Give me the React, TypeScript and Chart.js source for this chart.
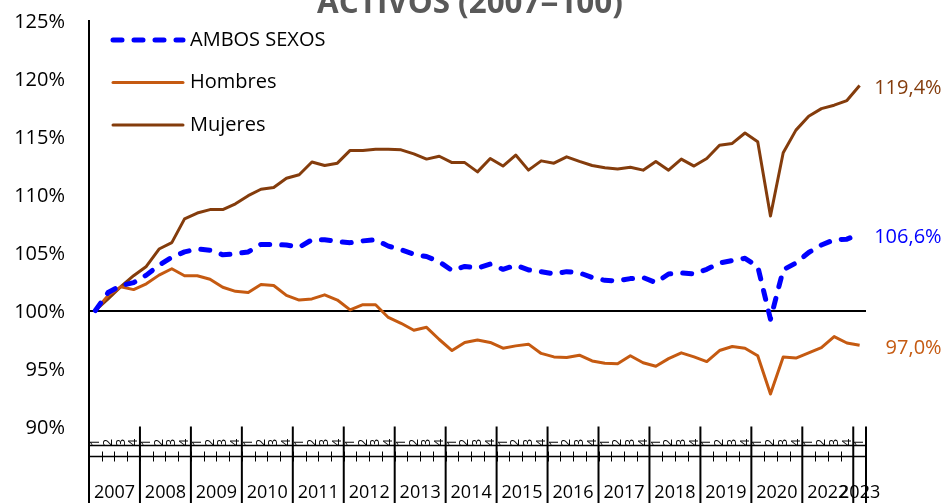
import React, { useEffect, useRef } from 'react';
import { Chart, registerables } from 'chart.js';

Chart.register(...registerables);

const FONT = "'Open Sans', 'Noto Sans', sans-serif";

const chartTitle = 'ACTIVOS (2007=100)';
const years = ['2007', '2008', '2009', '2010', '2011', '2012', '2013', '2014', '2015', '2016', '2017', '2018', '2019', '2020', '2022', '2023'];
const quarterNames = ['1', '2', '3', '4'];
const quartersShown = [4, 4, 4, 4, 4, 4, 4, 4, 4, 4, 4, 4, 4, 4, 4, 1];

const seriesNames = ['AMBOS SEXOS', 'Hombres', 'Mujeres'];
const seriesColors = ['#0000FF', '#C55A11', '#843C0C'];

const ambos = [
  100.0, 101.55, 102.15, 102.4, 103.05, 103.9, 104.6, 105.05, 105.3, 105.2,
  104.8, 104.9, 105.05, 105.7, 105.7, 105.65, 105.45, 106.1, 106.1, 105.95,
  105.85, 106.0, 106.1, 105.55, 105.25, 104.85, 104.65, 104.2, 103.45, 103.8,
  103.65, 104.0, 103.55, 103.9, 103.5, 103.35, 103.15, 103.35, 103.25, 102.85,
  102.6, 102.55, 102.75, 102.85, 102.4, 103.15, 103.25, 103.15, 103.55, 104.1,
  104.3, 104.5, 103.8, 99.25, 103.5, 104.1, 105.0, 105.65, 106.1, 106.15,
  106.6,
];

const hombres = [
  100.0, 101.3, 102.05, 101.8, 102.3, 103.05, 103.6, 103.0, 103.0, 102.7,
  102.0, 101.65, 101.55, 102.25, 102.15, 101.3, 100.9, 101.0, 101.35, 100.9,
  100.05, 100.5, 100.5, 99.4, 98.9, 98.3, 98.55, 97.5, 96.55, 97.25,
  97.45, 97.25, 96.75, 96.95, 97.1, 96.3, 96.0, 95.95, 96.15, 95.65,
  95.45, 95.4, 96.1, 95.5, 95.2, 95.85, 96.35, 96.0, 95.6, 96.55,
  96.9, 96.75, 96.1, 92.8, 96.0, 95.9, 96.35, 96.8, 97.75, 97.2,
  97.0,
];

const mujeres = [
  100.0, 101.0, 102.05, 103.0, 103.8, 105.3, 105.85, 107.9, 108.4, 108.7,
  108.7, 109.2, 109.9, 110.45, 110.6, 111.4, 111.7, 112.8, 112.5, 112.7,
  113.8, 113.8, 113.9, 113.9, 113.85, 113.5, 113.05, 113.3, 112.75, 112.75,
  111.95, 113.1, 112.45, 113.4, 112.1, 112.9, 112.7, 113.25, 112.85, 112.5,
  112.3, 112.2, 112.35, 112.1, 112.85, 112.1, 113.05, 112.45, 113.1, 114.25,
  114.4, 115.3, 114.55, 108.15, 113.6, 115.55, 116.75, 117.4, 117.7, 118.1,
  119.4,
];

const yMin = 90;
const yMax = 125;
const yStep = 5;
const referenceValue = 100;

const categories: string[] = years.flatMap((y, k) =>
  quarterNames.slice(0, quartersShown[k]).map((q) => `${y} T${q}`)
);
const categoryQuarter: string[] = years.flatMap((y, k) => quarterNames.slice(0, quartersShown[k]));

const fmtPct = (v: number) => v.toFixed(1).replace('.', ',') + '%';

const decorPlugin = {
  id: 'decor',
  afterDraw(chart: any) {
    const { ctx, chartArea: ca, scales } = chart;
    const xs = scales.x;
    const H = chart.height;
    const n = categories.length;
    const step = xs.getPixelForValue(1) - xs.getPixelForValue(0);
    const left = xs.getPixelForValue(0) - step / 2;
    const right = xs.getPixelForValue(n - 1) + step / 2;
    const b = ca.bottom;

    const line = (x1: number, y1: number, x2: number, y2: number) => {
      ctx.beginPath();
      ctx.moveTo(x1, y1);
      ctx.lineTo(x2, y2);
      ctx.stroke();
    };

    ctx.save();
    ctx.strokeStyle = '#000';
    ctx.fillStyle = '#000';

    // extension of the vertical axis and year separators
    ctx.lineWidth = 2;
    line(ca.left, b - 1, ca.left, H);
    const bounds: number[] = [left];
    let idx = 0;
    quartersShown.forEach((c) => {
      idx += c;
      bounds.push(xs.getPixelForValue(idx - 1) + step / 2);
    });
    bounds.forEach((bx) => line(bx, b, bx, H));

    // quarter band lines
    ctx.lineWidth = 1.5;
    line(left, b + 19, right, b + 19);
    line(left, b + 30, right, b + 30);

    // quarter ticks
    ctx.lineWidth = 1;
    for (let i = 1; i < n; i++) {
      const xb = Math.round(xs.getPixelForValue(i) - step / 2) + 0.5;
      line(xb, b + 25, xb, b + 35);
    }

    // quarter labels (rotated, clipped as in the original)
    ctx.save();
    ctx.beginPath();
    ctx.rect(left, b + 10, right - left, 12);
    ctx.clip();
    ctx.font = `13px ${FONT}`;
    ctx.textAlign = 'center';
    ctx.textBaseline = 'middle';
    for (let i = 0; i < n; i++) {
      ctx.save();
      ctx.translate(xs.getPixelForValue(i), b + 16);
      ctx.rotate(-Math.PI / 2);
      ctx.fillText(categoryQuarter[i], 0, 0);
      ctx.restore();
    }
    ctx.restore();

    // year labels
    ctx.font = `18px ${FONT}`;
    ctx.textAlign = 'center';
    ctx.textBaseline = 'middle';
    ctx.fillStyle = '#000';
    for (let k = 0; k < years.length; k++) {
      ctx.fillText(years[k], (bounds[k] + bounds[k + 1]) / 2, b + 66);
    }

    // legend
    const legendY = [40, 82.5, 125];
    chart.data.datasets.forEach((ds: any, i: number) => {
      const y = legendY[i];
      ctx.save();
      ctx.strokeStyle = ds.borderColor;
      ctx.lineWidth = ds.borderWidth;
      ctx.lineCap = 'round';
      ctx.setLineDash(ds.borderDash || []);
      line(ca.left + 24, y, ca.left + 94, y);
      ctx.restore();
      ctx.font = `20px ${FONT}`;
      ctx.textAlign = 'left';
      ctx.textBaseline = 'middle';
      ctx.fillStyle = '#000';
      ctx.fillText(ds.label, ca.left + 101, y);
    });

    // end-of-series labels
    chart.data.datasets.forEach((ds: any, i: number) => {
      const meta = chart.getDatasetMeta(i);
      const pt = meta.data[meta.data.length - 1];
      const v = ds.data[ds.data.length - 1];
      ctx.font = `20px ${FONT}`;
      ctx.textAlign = 'right';
      ctx.textBaseline = 'middle';
      ctx.fillStyle = ds.borderColor;
      ctx.fillText(fmtPct(v), pt.x + 82, pt.y + 3);
    });

    // title (partly cut by the top edge, as in the original)
    ctx.font = `bold 30px ${FONT}`;
    const w = ctx.measureText(chartTitle).width;
    const size = 30 * 306 / w;
    ctx.font = `bold ${size}px ${FONT}`;
    ctx.textAlign = 'center';
    ctx.textBaseline = 'alphabetic';
    ctx.fillStyle = '#595959';
    ctx.fillText(chartTitle, 470, 13);

    ctx.restore();
  },
};

export default function App() {
  const canvasRef = useRef<HTMLCanvasElement | null>(null);

  useEffect(() => {
    if (!canvasRef.current) return;
    const chart = new Chart(canvasRef.current, {
      type: 'line',
      data: {
        labels: categories,
        datasets: [
          {
            label: seriesNames[0],
            data: ambos,
            borderColor: seriesColors[0],
            backgroundColor: seriesColors[0],
            borderWidth: 5,
            borderDash: [9, 12],
            borderCapStyle: 'round',
            borderJoinStyle: 'round',
            pointRadius: 0,
            tension: 0,
          },
          {
            label: seriesNames[1],
            data: hombres,
            borderColor: seriesColors[1],
            backgroundColor: seriesColors[1],
            borderWidth: 3,
            borderJoinStyle: 'round',
            pointRadius: 0,
            tension: 0,
          },
          {
            label: seriesNames[2],
            data: mujeres,
            borderColor: seriesColors[2],
            backgroundColor: seriesColors[2],
            borderWidth: 3,
            borderJoinStyle: 'round',
            pointRadius: 0,
            tension: 0,
          },
        ],
      },
      options: {
        responsive: true,
        maintainAspectRatio: false,
        animation: false,
        layout: { padding: { top: 20.5, right: 79, bottom: 76.5, left: 0 } },
        plugins: {
          legend: { display: false },
          title: { display: false },
          tooltip: { enabled: false },
        },
        scales: {
          x: {
            type: 'category',
            display: false,
            offset: true,
          },
          y: {
            min: yMin,
            max: yMax,
            afterFit: (scale: any) => {
              scale.width = 89;
            },
            ticks: {
              stepSize: yStep,
              padding: 0,
              labelOffset: 2,
              color: '#000',
              font: { family: FONT, size: 20 },
              callback: (v: any) => `${v}%`,
            },
            grid: {
              drawTicks: true,
              tickLength: 24,
              tickColor: 'rgba(0,0,0,0)',
              color: (c: any) => (c.tick && c.tick.value === referenceValue ? '#000' : 'rgba(0,0,0,0)'),
              lineWidth: (c: any) => (c.tick && c.tick.value === referenceValue ? 2 : 0),
            },
            border: { display: true, color: '#000', width: 2 },
          },
        },
      },
      plugins: [decorPlugin],
    });
    return () => chart.destroy();
  }, []);

  return (
    <div style={{ position: 'absolute', left: 0, top: 0, width: 945, height: 503, background: '#fff' }}>
      <canvas ref={canvasRef} />
    </div>
  );
}
